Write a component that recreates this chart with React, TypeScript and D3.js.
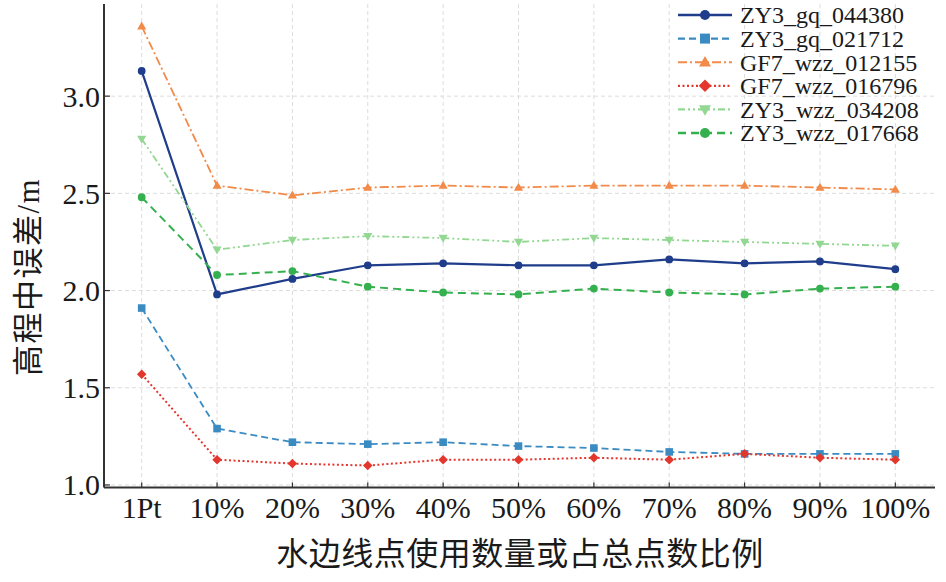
import React from "react";
import * as d3 from "d3";

const categories = ["1Pt", "10%", "20%", "30%", "40%", "50%", "60%", "70%", "80%", "90%", "100%"];
const seriesNames = ["ZY3_gq_044380", "ZY3_gq_021712", "GF7_wzz_012155", "GF7_wzz_016796", "ZY3_wzz_034208", "ZY3_wzz_017668"];
const zy3gq044380 = [3.13, 1.98, 2.06, 2.13, 2.14, 2.13, 2.13, 2.16, 2.14, 2.15, 2.11];
const zy3gq021712 = [1.91, 1.29, 1.22, 1.21, 1.22, 1.2, 1.19, 1.17, 1.16, 1.16, 1.16];
const gf7wzz012155 = [3.36, 2.54, 2.49, 2.53, 2.54, 2.53, 2.54, 2.54, 2.54, 2.53, 2.52];
const gf7wzz016796 = [1.57, 1.13, 1.11, 1.1, 1.13, 1.13, 1.14, 1.13, 1.16, 1.14, 1.13];
const zy3wzz034208 = [2.78, 2.21, 2.26, 2.28, 2.27, 2.25, 2.27, 2.26, 2.25, 2.24, 2.23];
const zy3wzz017668 = [2.48, 2.08, 2.1, 2.02, 1.99, 1.98, 2.01, 1.99, 1.98, 2.01, 2.02];
const yTicks = [1.0, 1.5, 2.0, 2.5, 3.0];
const xTitle = "水边线点使用数量或占总点数比例";
const yTitle = "高程中误差/m";

const seriesValues = [zy3gq044380, zy3gq021712, gf7wzz012155, gf7wzz016796, zy3wzz034208, zy3wzz017668];
const styles = [
  { color: "#1f3d8a", dash: "", marker: "circle", width: 2.2 },
  { color: "#3b8bc3", dash: "7,4", marker: "square", width: 1.8 },
  { color: "#f28a4a", dash: "9,3,2,3", marker: "triUp", width: 1.8 },
  { color: "#e3372e", dash: "2,2.5", marker: "diamond", width: 2 },
  { color: "#92d792", dash: "7,3,2,3,2,3", marker: "triDown", width: 1.8 },
  { color: "#35b04f", dash: "8,5", marker: "circle", width: 2 },
];

const W = 946;
const H = 582;
const left = 104;
const right = 933;
const top = 4;
const bottom = 487.5;

const SERIF = "Liberation Serif, DejaVu Serif, serif";
const CJK = "Liberation Serif, Noto Sans CJK SC, serif";

function markerPath(kind: string, s: number): string {
  switch (kind) {
    case "circle":
      return `M${s},0A${s},${s},0,1,1,${-s},0A${s},${s},0,1,1,${s},0Z`;
    case "square":
      return `M${-s},${-s}H${s}V${s}H${-s}Z`;
    case "diamond":
      return `M0,${-s * 1.25}L${s * 1.25},0L0,${s * 1.25}L${-s * 1.25},0Z`;
    case "triUp":
      return `M0,${-s * 1.25}L${s * 1.2},${s * 0.85}L${-s * 1.2},${s * 0.85}Z`;
    case "triDown":
      return `M0,${s * 1.25}L${s * 1.2},${-s * 0.85}L${-s * 1.2},${-s * 0.85}Z`;
    default:
      return "";
  }
}

export default function App() {
  const x = d3.scalePoint<string>().domain(categories).range([left, right]).padding(0.5);
  const y = d3.scaleLinear().domain([0.987, 3.474]).range([bottom, top]);
  const line = d3
    .line<number>()
    .x((_, i) => x(categories[i]) as number)
    .y((d) => y(d));

  const legendX0 = 678;
  const legendX1 = 732;
  const legendY0 = 15;
  const legendStep = 23.6;

  return (
    <svg
      width={W}
      height={H}
      style={{ position: "absolute", left: 0, top: 0, background: "#fff" }}
    >
      <rect x={0} y={0} width={W} height={H} fill="#fff" />
      {categories.map((c) => (
        <line
          key={"gx" + c}
          x1={x(c)}
          x2={x(c)}
          y1={top}
          y2={bottom}
          stroke="#dcdcdc"
          strokeWidth={1}
          strokeDasharray="4,3"
        />
      ))}
      {yTicks.map((t) => (
        <line
          key={"gy" + t}
          x1={left}
          x2={right + 2}
          y1={y(t)}
          y2={y(t)}
          stroke="#dcdcdc"
          strokeWidth={1}
          strokeDasharray="4,3"
        />
      ))}
      {seriesValues.map((vals, si) => (
        <g key={"s" + si}>
          <path
            d={line(vals) || ""}
            fill="none"
            stroke={styles[si].color}
            strokeWidth={styles[si].width}
            strokeDasharray={styles[si].dash || undefined}
          />
          {vals.map((v, i) => (
            <path
              key={i}
              d={markerPath(styles[si].marker, styles[si].marker === "circle" ? 3.9 : 3.8)}
              transform={`translate(${x(categories[i])},${y(v)})`}
              fill={styles[si].color}
            />
          ))}
        </g>
      ))}
      <line x1={left} x2={left} y1={top} y2={bottom} stroke="#333" strokeWidth={2} />
      <line x1={left} x2={right + 2} y1={bottom} y2={bottom} stroke="#333" strokeWidth={2} />
      {categories.map((c) => (
        <g key={"tx" + c}>
          <line x1={x(c)} x2={x(c)} y1={bottom} y2={bottom - 5} stroke="#333" strokeWidth={1.2} />
          <text
            x={x(c)}
            y={bottom + 30}
            textAnchor="middle"
            fill="#1a1a1a"
            fontFamily={SERIF}
            fontSize={30}
          >
            {c}
          </text>
        </g>
      ))}
      {yTicks.map((t) => (
        <g key={"ty" + t}>
          <line x1={left} x2={left + 6} y1={y(t)} y2={y(t)} stroke="#333" strokeWidth={1.2} />
          <text
            x={left - 4}
            y={y(t)}
            dy="0.35em"
            textAnchor="end"
            fill="#1a1a1a"
            fontFamily={SERIF}
            fontSize={30}
          >
            {t.toFixed(1)}
          </text>
        </g>
      ))}
      <text
        x={520}
        y={565}
        textAnchor="middle"
        fill="#1a1a1a"
        fontFamily={CJK}
        fontSize={32}
        letterSpacing={0.5}
      >
        {xTitle}
      </text>
      <text
        transform={`translate(39,277) rotate(-90)`}
        textAnchor="middle"
        fill="#1a1a1a"
        fontFamily={CJK}
        fontSize={31}
        letterSpacing={1.5}
      >
        {yTitle}
      </text>
      {seriesNames.map((name, si) => {
        const ly = legendY0 + si * legendStep;
        return (
          <g key={"lg" + si}>
            <line
              x1={legendX0}
              x2={legendX1}
              y1={ly}
              y2={ly}
              stroke={styles[si].color}
              strokeWidth={styles[si].width + 0.3}
              strokeDasharray={styles[si].dash || undefined}
            />
            <path
              d={markerPath(styles[si].marker, 5)}
              transform={`translate(${(legendX0 + legendX1) / 2},${ly})`}
              fill={styles[si].color}
            />
            <text x={740} y={ly} dy="0.35em" fill="#1a1a1a" fontFamily={SERIF} fontSize={24}>
              {name}
            </text>
          </g>
        );
      })}
    </svg>
  );
}
